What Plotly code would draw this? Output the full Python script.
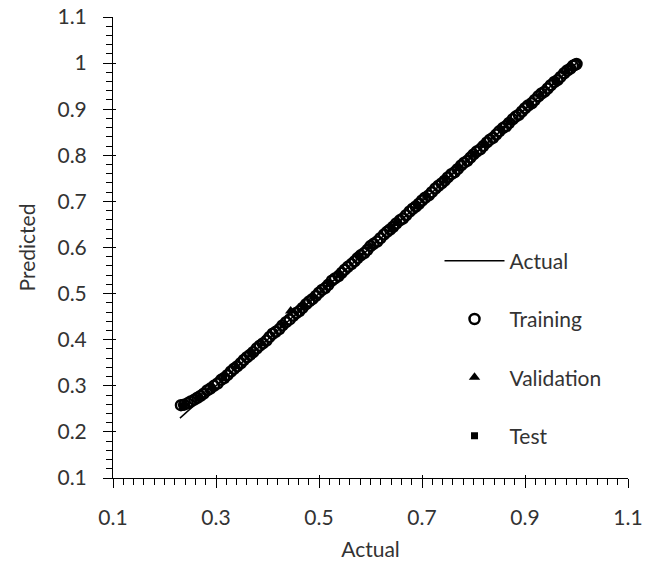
import plotly.graph_objects as go

# ---- data ----
actual_x = [0.23, 1.0]
actual_y = [0.23, 1.0]

train_x_a = [0.232, 0.245, 0.258, 0.270, 0.283, 0.296, 0.310, 0.322, 0.335, 0.348,
             0.360, 0.372, 0.385, 0.398, 0.410, 0.423, 0.436, 0.450, 0.462, 0.475,
             0.487, 0.500, 0.512, 0.525, 0.538, 0.550, 0.563, 0.575, 0.588, 0.600,
             0.613, 0.626, 0.638, 0.650, 0.663, 0.676, 0.688, 0.700, 0.713, 0.726,
             0.738, 0.750, 0.763, 0.776, 0.788, 0.800, 0.813, 0.826, 0.838, 0.850,
             0.863, 0.876, 0.888, 0.900, 0.913, 0.926, 0.938, 0.950, 0.963, 0.976,
             0.988, 0.997, 1.000]
train_y_a = [0.258, 0.262, 0.270, 0.278, 0.290, 0.300, 0.313, 0.323, 0.337, 0.349,
             0.362, 0.373, 0.387, 0.398, 0.413, 0.423, 0.438, 0.452, 0.462, 0.477,
             0.488, 0.502, 0.512, 0.528, 0.538, 0.552, 0.564, 0.577, 0.588, 0.603,
             0.613, 0.628, 0.639, 0.652, 0.663, 0.678, 0.689, 0.702, 0.713, 0.728,
             0.739, 0.752, 0.763, 0.778, 0.788, 0.802, 0.813, 0.828, 0.838, 0.852,
             0.863, 0.878, 0.888, 0.902, 0.913, 0.928, 0.938, 0.952, 0.963, 0.978,
             0.988, 0.996, 0.998]
train_x_b = [0.238, 0.251, 0.264, 0.276, 0.289, 0.303, 0.316, 0.329, 0.341, 0.354,
             0.366, 0.379, 0.391, 0.404, 0.416, 0.429, 0.443, 0.456, 0.468, 0.481,
             0.494, 0.506, 0.518, 0.531, 0.544, 0.556, 0.569, 0.581, 0.594, 0.606,
             0.619, 0.632, 0.644, 0.657, 0.669, 0.682, 0.694, 0.706, 0.719, 0.732,
             0.744, 0.757, 0.769, 0.782, 0.794, 0.806, 0.819, 0.832, 0.844, 0.857,
             0.869, 0.882, 0.894, 0.906, 0.919, 0.932, 0.944, 0.957, 0.969, 0.982,
             0.993]
train_y_b = [0.259, 0.266, 0.274, 0.283, 0.294, 0.305, 0.317, 0.331, 0.342, 0.356,
             0.367, 0.381, 0.392, 0.406, 0.417, 0.431, 0.444, 0.458, 0.469, 0.483,
             0.495, 0.508, 0.519, 0.533, 0.545, 0.558, 0.570, 0.583, 0.595, 0.608,
             0.620, 0.634, 0.645, 0.659, 0.670, 0.684, 0.695, 0.708, 0.720, 0.734,
             0.745, 0.759, 0.770, 0.784, 0.795, 0.808, 0.820, 0.834, 0.845, 0.859,
             0.870, 0.884, 0.895, 0.908, 0.920, 0.934, 0.945, 0.959, 0.970, 0.984,
             0.994]

val_x = [0.240, 0.290, 0.340, 0.390, 0.445, 0.490, 0.540, 0.600, 0.650, 0.710,
         0.770, 0.820, 0.870, 0.930, 0.980]
val_y = [0.260, 0.295, 0.342, 0.392, 0.462, 0.492, 0.541, 0.601, 0.652, 0.711,
         0.771, 0.822, 0.871, 0.931, 0.981]

test_x = [0.235, 0.265, 0.315, 0.370, 0.430, 0.470, 0.520, 0.580, 0.640, 0.690,
          0.745, 0.800, 0.855, 0.910, 0.960]
test_y = [0.257, 0.274, 0.318, 0.372, 0.432, 0.471, 0.522, 0.581, 0.641, 0.691,
          0.746, 0.802, 0.856, 0.911, 0.961]

train_x = train_x_a + train_x_b
train_y = train_y_a + train_y_b

FONT = "Lato"
TXT = "#333333"
FS = 21

fig = go.Figure()
fig.add_trace(go.Scatter(x=actual_x, y=actual_y, mode="lines", name="Actual",
                         line=dict(color="black", width=1.5), legendgroup="a"))
fig.add_trace(go.Scatter(x=train_x, y=train_y, mode="markers", name="Training",
                         marker=dict(symbol="circle-open", size=10, color="black",
                                     line=dict(width=2.5, color="black")),
                         legendgroup="b"))
fig.add_trace(go.Scatter(x=val_x, y=val_y, mode="markers", name="Validation",
                         marker=dict(symbol="triangle-up", size=10, color="black"),
                         legendgroup="c"))
fig.add_trace(go.Scatter(x=test_x, y=test_y, mode="markers", name="Test",
                         marker=dict(symbol="square", size=7, color="black"),
                         legendgroup="d"))
# invisible trace to carry the overlay axes (inner half of crossing ticks)
fig.add_trace(go.Scatter(x=actual_x, y=actual_y, mode="lines", xaxis="x2", yaxis="y2",
                         line=dict(width=0), showlegend=False, hoverinfo="skip"))

axis_common = dict(
    showline=True, linecolor="black", linewidth=1,
    ticks="outside", ticklen=9, tickcolor="black", tickwidth=1,
    showgrid=False, zeroline=False, mirror=False, automargin=False,
    tickfont=dict(family=FONT, size=FS, color=TXT),
    minor=dict(ticks="outside", ticklen=6, tickcolor="black", dtick=0.02,
               showgrid=False),
)

fig.update_layout(
    width=650, height=565,
    margin=dict(l=113, r=22, t=17, b=87),
    paper_bgcolor="white", plot_bgcolor="white",
    font=dict(family=FONT, size=FS, color=TXT),
    xaxis=dict(range=[0.1, 1.1], dtick=0.2, tick0=0.1, ticklabelstandoff=12,
               title=dict(text="Actual", font=dict(family=FONT, size=FS, color=TXT),
                          standoff=14),
               **axis_common),
    yaxis=dict(range=[0.1, 1.1], dtick=0.1, tick0=0.1, ticklabelstandoff=12,
               title=dict(text="Predicted", font=dict(family=FONT, size=FS, color=TXT),
                          standoff=16),
               **axis_common),
    xaxis2=dict(overlaying="x", range=[0.1, 1.1], dtick=0.2, tick0=0.1,
                ticks="inside", ticklen=3, tickcolor="black", showticklabels=False,
                showline=False, showgrid=False, zeroline=False),
    yaxis2=dict(overlaying="y", range=[0.1, 1.1], dtick=0.1, tick0=0.1,
                ticks="inside", ticklen=3, tickcolor="black", showticklabels=False,
                showline=False, showgrid=False, zeroline=False),
    legend=dict(x=0.634, y=0.515, xanchor="left", yanchor="top",
                traceorder="grouped", tracegroupgap=28, itemwidth=60,
                bgcolor="rgba(0,0,0,0)", font=dict(family=FONT, size=FS, color=TXT)),
)

fig.write_html("out.html")
